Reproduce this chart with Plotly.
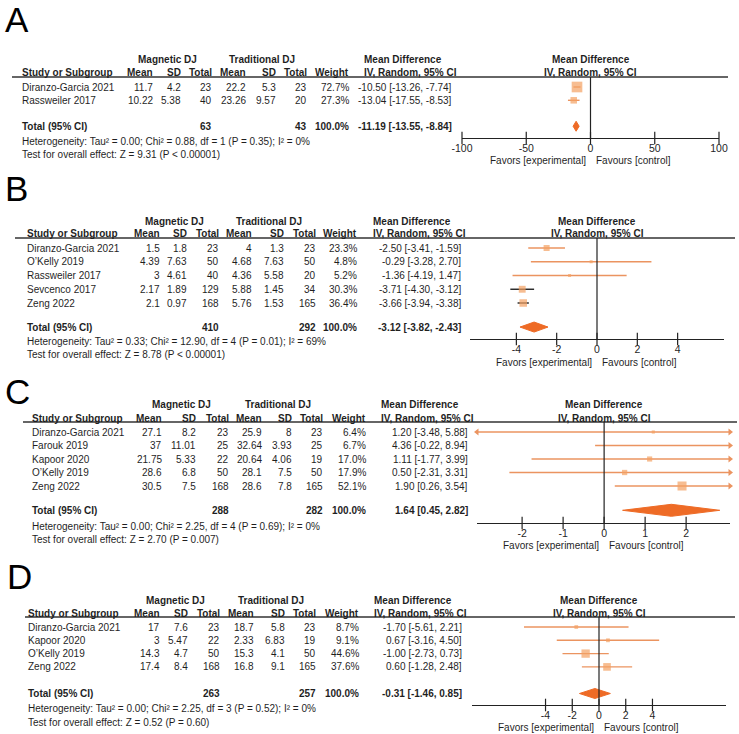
import math
import plotly.graph_objects as go

W, H = 739, 734
FONT = "Liberation Sans, Arial, sans-serif"
TXT = "#1f1f1f"
SQ = "#F3A162"
LN = "#EB9460"
DM = "#EE6B26"

# ---------------- Panel A data ----------------
a_study = ["Diranzo-Garcia 2021", "Rassweiler 2017"]
a_mean1 = [11.7, 10.22]
a_sd1 = [4.2, 5.38]
a_n1 = [23, 40]
a_mean2 = [22.2, 23.26]
a_sd2 = [5.3, 9.57]
a_n2 = [23, 20]
a_weight = [72.7, 27.3]
a_md = [-10.50, -13.04]
a_lo = [-13.26, -17.55]
a_hi = [-7.74, -8.53]
a_tot = [63, 43]
a_totw = 100.0
a_pool = [-11.19, -13.55, -8.84]
a_het = "Heterogeneity: Tau² = 0.00; Chi² = 0.88, df = 1 (P = 0.35); I² = 0%"
a_test = "Test for overall effect: Z = 9.31 (P < 0.00001)"
a_ticks = [-100, -50, 0, 50, 100]

# ---------------- Panel B data ----------------
b_study = ["Diranzo-Garcia 2021", "O’Kelly 2019", "Rassweiler 2017", "Sevcenco 2017", "Zeng 2022"]
b_mean1 = [1.5, 4.39, 3, 2.17, 2.1]
b_sd1 = [1.8, 7.63, 4.61, 1.89, 0.97]
b_n1 = [23, 50, 40, 129, 168]
b_mean2 = [4, 4.68, 4.36, 5.88, 5.76]
b_sd2 = [1.3, 7.63, 5.58, 1.45, 1.53]
b_n2 = [23, 50, 20, 34, 165]
b_weight = [23.3, 4.8, 5.2, 30.3, 36.4]
b_md = [-2.50, -0.29, -1.36, -3.71, -3.66]
b_lo = [-3.41, -3.28, -4.19, -4.30, -3.94]
b_hi = [-1.59, 2.70, 1.47, -3.12, -3.38]
b_tot = [410, 292]
b_totw = 100.0
b_pool = [-3.12, -3.82, -2.43]
b_het = "Heterogeneity: Tau² = 0.33; Chi² = 12.90, df = 4 (P = 0.01); I² = 69%"
b_test = "Test for overall effect: Z = 8.78 (P < 0.00001)"
b_ticks = [-4, -2, 0, 2, 4]

# ---------------- Panel C data ----------------
c_study = ["Diranzo-Garcia 2021", "Farouk 2019", "Kapoor 2020", "O’Kelly 2019", "Zeng 2022"]
c_mean1 = [27.1, 37, 21.75, 28.6, 30.5]
c_sd1 = [8.2, 11.01, 5.33, 6.8, 7.5]
c_n1 = [23, 25, 22, 50, 168]
c_mean2 = [25.9, 32.64, 20.64, 28.1, 28.6]
c_sd2 = [8, 3.93, 4.06, 7.5, 7.8]
c_n2 = [23, 25, 19, 50, 165]
c_weight = [6.4, 6.7, 17.0, 17.9, 52.1]
c_md = [1.20, 4.36, 1.11, 0.50, 1.90]
c_lo = [-3.48, -0.22, -1.77, -2.31, 0.26]
c_hi = [5.88, 8.94, 3.99, 3.31, 3.54]
c_tot = [288, 282]
c_totw = 100.0
c_pool = [1.64, 0.45, 2.82]
c_het = "Heterogeneity: Tau² = 0.00; Chi² = 2.25, df = 4 (P = 0.69); I² = 0%"
c_test = "Test for overall effect: Z = 2.70 (P = 0.007)"
c_ticks = [-2, -1, 0, 1, 2]

# ---------------- Panel D data ----------------
d_study = ["Diranzo-Garcia 2021", "Kapoor 2020", "O’Kelly 2019", "Zeng 2022"]
d_mean1 = [17, 3, 14.3, 17.4]
d_sd1 = [7.6, 5.47, 4.7, 8.4]
d_n1 = [23, 22, 50, 168]
d_mean2 = [18.7, 2.33, 15.3, 16.8]
d_sd2 = [5.8, 6.83, 4.1, 9.1]
d_n2 = [23, 19, 50, 165]
d_weight = [8.7, 9.1, 44.6, 37.6]
d_md = [-1.70, 0.67, -1.00, 0.60]
d_lo = [-5.61, -3.16, -2.73, -1.28]
d_hi = [2.21, 4.50, 0.73, 2.48]
d_tot = [263, 257]
d_totw = 100.0
d_pool = [-0.31, -1.46, 0.85]
d_het = "Heterogeneity: Tau² = 0.00; Chi² = 2.25, df = 3 (P = 0.52); I² = 0%"
d_test = "Test for overall effect: Z = 0.52 (P = 0.60)"
d_ticks = [-4, -2, 0, 2, 4]

panels = [
    dict(label="A", study=a_study, m1=a_mean1, s1=a_sd1, n1=a_n1, m2=a_mean2, s2=a_sd2, n2=a_n2,
         w=a_weight, md=a_md, lo=a_lo, hi=a_hi, tot=a_tot, totw=a_totw, pool=a_pool,
         het=a_het, test=a_test, ticks=a_ticks),
    dict(label="B", study=b_study, m1=b_mean1, s1=b_sd1, n1=b_n1, m2=b_mean2, s2=b_sd2, n2=b_n2,
         w=b_weight, md=b_md, lo=b_lo, hi=b_hi, tot=b_tot, totw=b_totw, pool=b_pool,
         het=b_het, test=b_test, ticks=b_ticks),
    dict(label="C", study=c_study, m1=c_mean1, s1=c_sd1, n1=c_n1, m2=c_mean2, s2=c_sd2, n2=c_n2,
         w=c_weight, md=c_md, lo=c_lo, hi=c_hi, tot=c_tot, totw=c_totw, pool=c_pool,
         het=c_het, test=c_test, ticks=c_ticks),
    dict(label="D", study=d_study, m1=d_mean1, s1=d_sd1, n1=d_n1, m2=d_mean2, s2=d_sd2, n2=d_n2,
         w=d_weight, md=d_md, lo=d_lo, hi=d_hi, tot=d_tot, totw=d_totw, pool=d_pool,
         het=d_het, test=d_test, ticks=d_ticks),
]

# layout (pixel positions) per panel
geo = [
    dict(letter=(4, 20), group_y=59, head_y=73, line_y=77, line_x=(12, 728), study_x=21,
         cols=[154, 182, 213, 247, 277, 308, 350], ci_x=453, md_x=363, grp_x=(167, 262),
         y0=87, dy=13.3, total_r=2.95, het_y=141, test_y=154, axis_y=138, fav_y=160,
         xpx=(462, 719), xr=(-100, 100), dh=5, dark=[]),
    dict(letter=(4, 188), group_y=221, head_y=234, line_y=238, line_x=(15, 735), study_x=26,
         cols=[161, 188, 220, 253, 285, 317, 358], ci_x=462, md_x=372, grp_x=(174, 269),
         y0=248, dy=13.75, total_r=5.75, het_y=341, test_y=354, axis_y=339, fav_y=363,
         xpx=(470, 724), xr=(-6.3, 6.3), dh=5, dark=[3, 4]),
    dict(letter=(4, 391), group_y=404, head_y=418, line_y=422, line_x=(23, 737), study_x=31,
         cols=[163, 197, 230, 263, 293, 324, 367], ci_x=469, md_x=380, grp_x=(181, 278),
         y0=432, dy=13.5, total_r=5.8, het_y=526, test_y=539, axis_y=523, fav_y=545,
         xpx=(477, 730), xr=(-3.1, 3.07), dh=6, dark=[]),
    dict(letter=(6, 576), group_y=600, head_y=613, line_y=617, line_x=(25, 735), study_x=27,
         cols=[161, 189, 221, 255, 286, 317, 360], ci_x=463, md_x=373, grp_x=(175, 271),
         y0=627, dy=13.3, total_r=5.0, het_y=708, test_y=722, axis_y=705, fav_y=727,
         xpx=(472, 726), xr=(-9.5, 9.5), dh=5, dark=[]),
]

ann = []
shapes = []
fig = go.Figure()


def T(x, y, s, anchor="left", bold=False, size=10, color=TXT):
    ann.append(dict(x=x / W, y=1 - y / H, xref="paper", yref="paper",
                    text=f"<b>{s}</b>" if bold else s, showarrow=False,
                    xanchor=anchor, yanchor="middle", borderpad=0,
                    font=dict(size=size, color=color, family=FONT)))


def g(v):
    return f"{v:g}"


for k, (p, gm) in enumerate(zip(panels, geo), start=1):
    xs = "x" if k == 1 else f"x{k}"
    ys = "y" if k == 1 else f"y{k}"
    # letter
    T(gm["letter"][0], gm["letter"][1], p["label"], size=35, color="#000000")
    # group headers
    T(gm["grp_x"][0], gm["group_y"], "Magnetic DJ", anchor="center", bold=True)
    T(gm["grp_x"][1], gm["group_y"], "Traditional DJ", anchor="center", bold=True)
    T(gm["md_x"], gm["group_y"], "Mean Difference", bold=True)
    # column headers
    T(gm["study_x"], gm["head_y"], "Study or Subgroup", bold=True)
    for cx, h in zip(gm["cols"], ["Mean", "SD", "Total", "Mean", "SD", "Total", "Weight"]):
        T(cx, gm["head_y"], h, anchor="right", bold=True)
    T(gm["md_x"], gm["head_y"], "IV, Random, 95% CI", bold=True)
    # header line
    shapes.append(dict(type="line", xref="paper", yref="paper",
                       x0=gm["line_x"][0] / W, x1=gm["line_x"][1] / W,
                       y0=1 - gm["line_y"] / H, y1=1 - gm["line_y"] / H,
                       line=dict(color="#333333", width=1.3)))
    # rows
    n = len(p["study"])
    for i in range(n):
        yy = gm["y0"] + i * gm["dy"]
        T(gm["study_x"], yy, p["study"][i])
        vals = [g(p["m1"][i]), g(p["s1"][i]), str(p["n1"][i]),
                g(p["m2"][i]), g(p["s2"][i]), str(p["n2"][i]), f"{p['w'][i]:.1f}%"]
        for cx, v in zip(gm["cols"], vals):
            T(cx, yy, v, anchor="right")
        T(gm["ci_x"], yy, f"{p['md'][i]:.2f} [{p['lo'][i]:.2f}, {p['hi'][i]:.2f}]", anchor="right")
    # total row
    ty = gm["y0"] + gm["total_r"] * gm["dy"]
    T(gm["study_x"], ty, "Total (95% CI)", bold=True)
    T(gm["cols"][2], ty, str(p["tot"][0]), anchor="right", bold=True)
    T(gm["cols"][5], ty, str(p["tot"][1]), anchor="right", bold=True)
    T(gm["cols"][6], ty, f"{p['totw']:.1f}%", anchor="right", bold=True)
    pm, pl, ph = p["pool"]
    T(gm["ci_x"], ty, f"{pm:.2f} [{pl:.2f}, {ph:.2f}]", anchor="right", bold=True)
    T(gm["study_x"], gm["het_y"], p["het"])
    T(gm["study_x"], gm["test_y"], p["test"])

    # ---- forest plot axes ----
    y0, dy = gm["y0"], gm["dy"]
    r_axis = (gm["axis_y"] - y0) / dy
    r_top = (gm["line_y"] - y0) / dy
    xmin, xmax = gm["xr"]
    fig.layout[f"xaxis{'' if k == 1 else k}"] = dict(
        domain=[gm["xpx"][0] / W, gm["xpx"][1] / W], range=list(gm["xr"]), anchor=ys,
        showline=True, linecolor="#222222", linewidth=1.2, showgrid=False, zeroline=False,
        tickvals=p["ticks"], ticktext=[str(t) for t in p["ticks"]], ticks="", automargin=False,
        tickfont=dict(size=10.5, color=TXT, family=FONT), fixedrange=True)
    fig.layout[f"yaxis{'' if k == 1 else k}"] = dict(
        domain=[1 - gm["axis_y"] / H, 1 - gm["line_y"] / H], range=[r_axis, r_top],
        anchor=xs, visible=False, fixedrange=True, automargin=False)
    # zero line
    shapes.append(dict(type="line", xref=xs, yref=f"{ys} domain", x0=0, x1=0, y0=0, y1=1,
                       line=dict(color="#222222", width=1.2)))
    # ticks crossing the axis
    fig.add_trace(go.Scatter(x=p["ticks"], y=[r_axis] * len(p["ticks"]), xaxis=xs, yaxis=ys,
                             mode="markers", cliponaxis=False, hoverinfo="skip", showlegend=False,
                             marker=dict(symbol="line-ns", size=9, line=dict(width=1.2, color="#222222"))))
    # CI lines
    for i in range(n):
        lo = max(p["lo"][i], xmin)
        hi = min(p["hi"][i], xmax)
        col = "#222222" if i in gm["dark"] else LN
        fig.add_trace(go.Scatter(x=[lo, hi], y=[i, i], xaxis=xs, yaxis=ys, mode="lines",
                                 line=dict(color=col, width=1.4), hoverinfo="skip",
                                 showlegend=False, cliponaxis=False))
        if p["hi"][i] > xmax:
            fig.add_trace(go.Scatter(x=[xmax], y=[i], xaxis=xs, yaxis=ys, mode="markers",
                                     marker=dict(symbol="triangle-right", size=6, color=LN),
                                     cliponaxis=False, hoverinfo="skip", showlegend=False))
        if p["lo"][i] < xmin:
            fig.add_trace(go.Scatter(x=[xmin], y=[i], xaxis=xs, yaxis=ys, mode="markers",
                                     marker=dict(symbol="triangle-left", size=6, color=LN),
                                     cliponaxis=False, hoverinfo="skip", showlegend=False))
    # squares
    sx, sy, ss = [], [], []
    for i in range(n):
        if xmin <= p["md"][i] <= xmax:
            sx.append(p["md"][i])
            sy.append(i)
            ss.append(max(3, 1.25 * math.sqrt(p["w"][i])))
    fig.add_trace(go.Scatter(x=sx, y=sy, xaxis=xs, yaxis=ys, mode="markers",
                             marker=dict(symbol="square", size=ss, color=SQ, line=dict(width=0)),
                             hoverinfo="skip", showlegend=False))
    # diamond
    hh = gm["dh"] / dy
    tr = gm["total_r"]
    fig.add_trace(go.Scatter(x=[pl, pm, ph, pm, pl], y=[tr, tr - hh, tr, tr + hh, tr],
                             xaxis=xs, yaxis=ys, mode="lines", fill="toself", fillcolor=DM,
                             line=dict(color=DM, width=1), hoverinfo="skip", showlegend=False))
    # forest headers
    for yy, s in [(gm["group_y"], "Mean Difference"), (gm["head_y"], "IV, Random, 95% CI")]:
        ann.append(dict(x=0, xref=xs, y=1 - yy / H, yref="paper", text=f"<b>{s}</b>",
                        showarrow=False, xanchor="center", yanchor="middle", borderpad=0,
                        font=dict(size=10, color=TXT, family=FONT)))
    # favours labels
    ann.append(dict(x=0, xref=xs, y=1 - gm["fav_y"] / H, yref="paper", text="Favors [experimental]",
                    showarrow=False, xanchor="right", yanchor="middle", xshift=-4, borderpad=0,
                    font=dict(size=10, color=TXT, family=FONT)))
    ann.append(dict(x=0, xref=xs, y=1 - gm["fav_y"] / H, yref="paper", text="Favours [control]",
                    showarrow=False, xanchor="left", yanchor="middle", xshift=4, borderpad=0,
                    font=dict(size=10, color=TXT, family=FONT)))

fig.update_layout(width=W, height=H, margin=dict(l=0, r=0, t=0, b=0, autoexpand=False),
                  paper_bgcolor="white", plot_bgcolor="white",
                  annotations=ann, shapes=shapes, showlegend=False,
                  font=dict(family=FONT, color=TXT))
fig.write_html("out.html", config={"displayModeBar": False, "staticPlot": True},
               post_script="document.body.style.margin='0px';document.body.style.overflow='hidden';")
